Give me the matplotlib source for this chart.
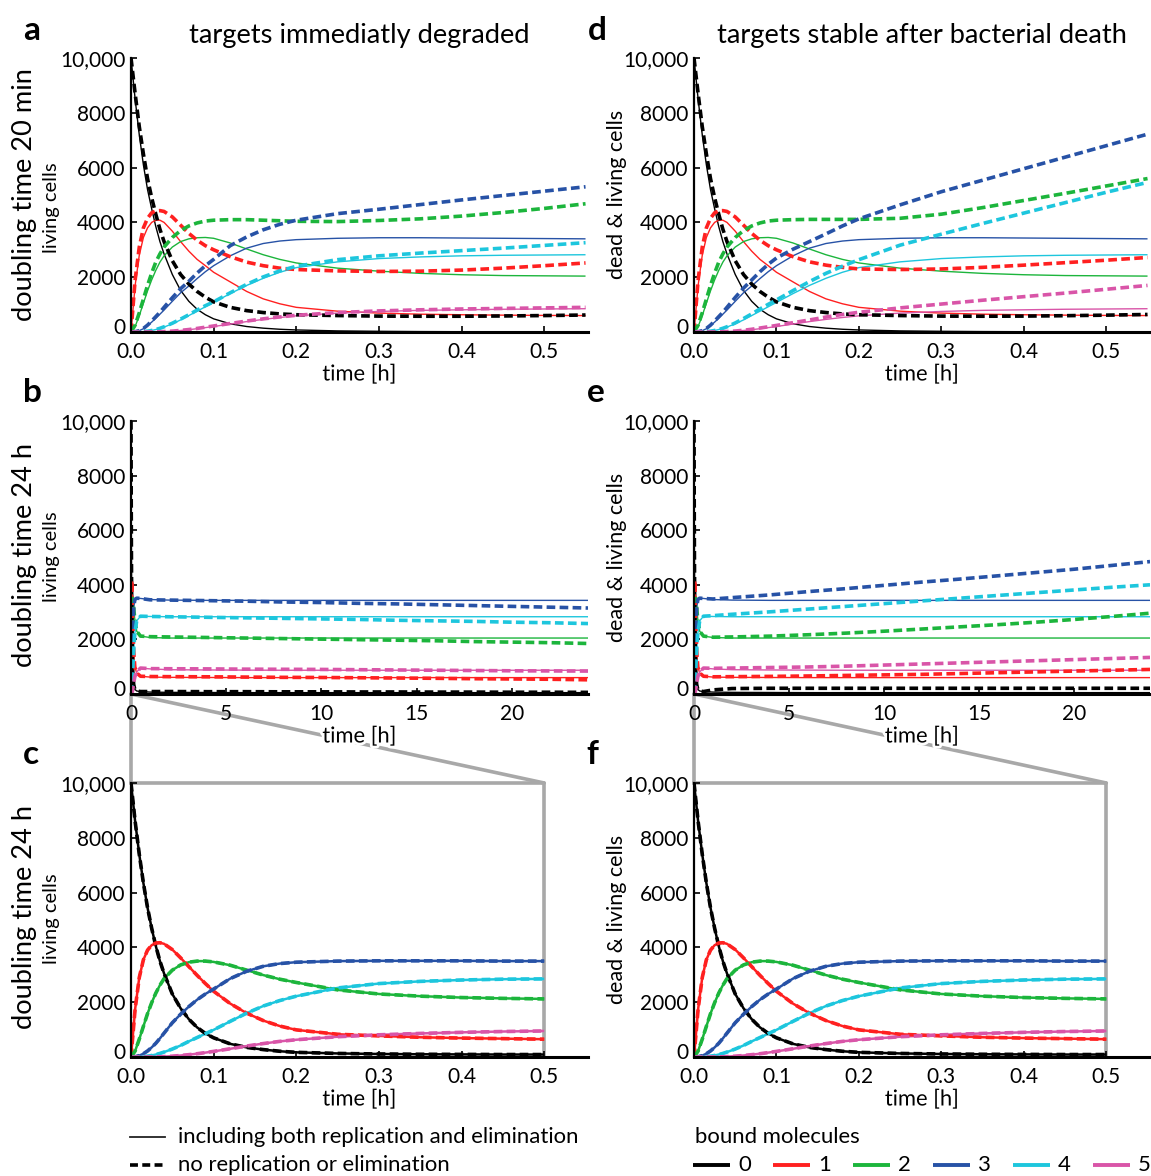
import matplotlib
matplotlib.use("Agg")
import matplotlib.pyplot as plt
from matplotlib.lines import Line2D
from matplotlib.patches import ConnectionPatch
import matplotlib.patheffects as pe
import matplotlib.transforms as mtransforms

plt.rcParams['font.family'] = ['Lato', 'DejaVu Sans']

# colours for 0..5 bound molecules
colors = ['#000000', '#ff2020', '#1cb53c', '#2752a6', '#1dc6dd', '#d955a8']
bound_labels = ['0', '1', '2', '3', '4', '5']

# short time axis (panels a, d, c, f)
t_short = [0, 0.005, 0.01, 0.015, 0.02, 0.025, 0.03, 0.035, 0.04, 0.05, 0.06, 0.07, 0.08,
           0.09, 0.1, 0.12, 0.14, 0.16, 0.18, 0.2, 0.25, 0.3, 0.35, 0.4, 0.45, 0.5, 0.55]

# doubling 20 min, with replication/elimination (solid in a and d)
fast_solid = [
    [10000, 8500, 7200, 6100, 5200, 4500, 3850, 3300, 2850, 2100, 1520, 1120, 830, 630, 480, 300, 200, 140, 100, 75, 40, 25, 15, 10, 8, 6, 5],
    [0, 1700, 2800, 3450, 3800, 4000, 4080, 4080, 4000, 3680, 3300, 2950, 2650, 2420, 2180, 1830, 1480, 1210, 1030, 900, 760, 690, 650, 630, 615, 605, 600],
    [0, 200, 600, 1050, 1500, 1900, 2250, 2550, 2780, 3100, 3300, 3400, 3440, 3450, 3420, 3250, 3030, 2820, 2650, 2520, 2330, 2220, 2140, 2090, 2060, 2050, 2040],
    [0, 10, 50, 120, 230, 360, 500, 650, 800, 1120, 1430, 1680, 1950, 2200, 2420, 2780, 3060, 3230, 3320, 3370, 3420, 3440, 3440, 3430, 3420, 3410, 3400],
    [0, 0, 5, 15, 30, 55, 90, 130, 180, 300, 440, 600, 760, 920, 1080, 1400, 1700, 1960, 2180, 2350, 2560, 2680, 2740, 2780, 2800, 2810, 2820],
    [0, 0, 0, 0, 1, 3, 5, 8, 15, 30, 55, 85, 120, 160, 200, 290, 380, 460, 530, 590, 690, 750, 790, 810, 830, 840, 850],
]

# no replication or elimination, targets degraded (dashed in a)
a_dash = [
    [10000, 8700, 7500, 6500, 5600, 4900, 4300, 3750, 3300, 2600, 2100, 1750, 1480, 1270, 1100, 900, 780, 710, 660, 630, 600, 580, 575, 575, 585, 600, 620],
    [0, 1900, 3100, 3800, 4150, 4350, 4420, 4430, 4400, 4200, 3900, 3600, 3350, 3150, 3000, 2750, 2550, 2420, 2330, 2280, 2230, 2210, 2220, 2260, 2330, 2420, 2520],
    [0, 250, 700, 1200, 1700, 2150, 2550, 2850, 3100, 3450, 3700, 3870, 3980, 4050, 4080, 4100, 4100, 4080, 4060, 4040, 4030, 4070, 4130, 4230, 4360, 4510, 4680],
    [0, 10, 50, 130, 250, 400, 560, 720, 900, 1250, 1580, 1850, 2150, 2420, 2650, 3150, 3470, 3730, 3930, 4080, 4320, 4480, 4650, 4820, 4980, 5140, 5300],
    [0, 0, 5, 15, 30, 55, 90, 135, 190, 320, 470, 630, 800, 960, 1100, 1430, 1740, 2010, 2230, 2400, 2640, 2780, 2880, 2970, 3060, 3160, 3260],
    [0, 0, 0, 0, 1, 3, 5, 9, 16, 32, 58, 90, 130, 175, 220, 310, 400, 480, 550, 610, 710, 770, 810, 840, 860, 880, 900],
]

# no replication or elimination, targets stable (dashed in d)
d_dash = [
    [10000, 8700, 7500, 6500, 5600, 4900, 4300, 3750, 3300, 2600, 2100, 1750, 1480, 1270, 1100, 900, 780, 710, 660, 630, 600, 580, 575, 580, 595, 615, 640],
    [0, 1900, 3100, 3800, 4150, 4350, 4420, 4430, 4400, 4200, 3900, 3600, 3350, 3150, 3000, 2750, 2560, 2440, 2360, 2300, 2280, 2300, 2360, 2440, 2530, 2620, 2720],
    [0, 250, 700, 1200, 1700, 2150, 2550, 2850, 3100, 3450, 3700, 3870, 3980, 4050, 4080, 4100, 4110, 4110, 4110, 4110, 4150, 4300, 4540, 4800, 5060, 5330, 5600],
    [0, 10, 50, 130, 250, 400, 560, 720, 900, 1260, 1600, 1900, 2200, 2470, 2700, 3020, 3300, 3580, 3870, 4130, 4640, 5120, 5540, 5960, 6380, 6800, 7220],
    [0, 0, 5, 15, 30, 55, 90, 135, 190, 330, 490, 660, 840, 1010, 1170, 1510, 1840, 2140, 2400, 2640, 3170, 3570, 3960, 4340, 4720, 5100, 5460],
    [0, 0, 0, 0, 1, 3, 5, 9, 17, 35, 63, 100, 145, 190, 240, 340, 440, 545, 640, 720, 880, 1020, 1160, 1290, 1420, 1560, 1700],
]

# doubling 24 h, first half hour (c and f; solid and dashed nearly equal)
slow = [
    [10000, 8600, 7400, 6350, 5450, 4700, 4050, 3500, 3050, 2300, 1780, 1380, 1080, 860, 700, 480, 350, 270, 210, 170, 130, 110, 100, 95, 90, 90],
    [0, 1750, 2900, 3550, 3900, 4080, 4160, 4170, 4130, 3920, 3620, 3300, 2980, 2680, 2400, 1950, 1600, 1330, 1130, 990, 830, 770, 720, 690, 670, 650],
    [0, 220, 650, 1120, 1580, 1980, 2330, 2620, 2860, 3170, 3360, 3460, 3500, 3500, 3470, 3350, 3170, 2990, 2840, 2720, 2450, 2300, 2220, 2170, 2140, 2120],
    [0, 10, 50, 120, 220, 350, 500, 680, 870, 1250, 1560, 1840, 2090, 2300, 2480, 2860, 3130, 3310, 3410, 3460, 3500, 3510, 3510, 3510, 3500, 3500],
    [0, 0, 5, 15, 30, 55, 90, 130, 180, 290, 420, 570, 710, 850, 990, 1300, 1600, 1860, 2060, 2220, 2520, 2680, 2760, 2810, 2840, 2850],
    [0, 0, 0, 0, 1, 3, 5, 8, 15, 30, 55, 85, 120, 160, 205, 300, 400, 490, 570, 630, 740, 810, 860, 900, 930, 950],
]

# long time axis (panels b, e)
t_long = [0, 0.01, 0.02, 0.035, 0.05, 0.09, 0.14, 0.2, 0.3, 0.5, 1, 2, 4, 6, 8, 10, 12, 14, 16, 18, 20, 22, 24]

long_solid = [
    [10000, 7400, 5450, 3500, 2300, 860, 350, 170, 110, 90, 70, 60, 55, 50, 50, 50, 50, 50, 50, 50, 50, 50, 50],
    [0, 2900, 3900, 4170, 3920, 2680, 1600, 990, 770, 650, 620, 610, 605, 600, 600, 600, 600, 600, 600, 600, 600, 600, 600],
    [0, 650, 1580, 2620, 3170, 3500, 3170, 2720, 2300, 2120, 2070, 2050, 2050, 2050, 2050, 2050, 2050, 2050, 2050, 2050, 2050, 2050, 2050],
    [0, 50, 220, 680, 1250, 2300, 3130, 3460, 3510, 3500, 3460, 3440, 3430, 3430, 3430, 3430, 3430, 3430, 3430, 3430, 3430, 3430, 3430],
    [0, 5, 30, 130, 290, 850, 1600, 2220, 2680, 2850, 2840, 2830, 2830, 2830, 2830, 2830, 2830, 2830, 2830, 2830, 2830, 2830, 2830],
    [0, 0, 1, 8, 30, 160, 400, 630, 810, 950, 920, 890, 880, 875, 870, 870, 870, 870, 870, 870, 870, 870, 870],
]

b_dash = [
    [10000, 7400, 5450, 3500, 2300, 860, 350, 170, 110, 90, 90, 90, 85, 85, 80, 80, 75, 75, 70, 70, 65, 65, 60],
    [0, 2900, 3900, 4170, 3920, 2680, 1600, 990, 770, 650, 640, 635, 630, 620, 610, 605, 595, 585, 575, 560, 550, 540, 520],
    [0, 650, 1580, 2620, 3170, 3500, 3170, 2720, 2300, 2120, 2100, 2090, 2070, 2050, 2030, 2010, 1990, 1970, 1950, 1920, 1900, 1880, 1850],
    [0, 50, 220, 680, 1250, 2300, 3130, 3460, 3510, 3500, 3450, 3440, 3420, 3400, 3370, 3350, 3320, 3300, 3270, 3240, 3210, 3180, 3150],
    [0, 5, 30, 130, 290, 850, 1600, 2220, 2680, 2850, 2840, 2830, 2810, 2790, 2770, 2750, 2730, 2700, 2680, 2660, 2630, 2610, 2580],
    [0, 0, 1, 8, 30, 160, 400, 630, 810, 950, 930, 925, 920, 910, 905, 900, 890, 880, 870, 860, 850, 845, 840],
]

e_dash = [
    [10000, 7400, 5450, 3500, 2300, 860, 350, 170, 110, 90, 150, 200, 210, 210, 210, 210, 210, 210, 210, 210, 210, 210, 210],
    [0, 2900, 3900, 4170, 3920, 2680, 1600, 990, 770, 650, 630, 635, 645, 660, 680, 700, 720, 750, 780, 810, 840, 870, 900],
    [0, 650, 1580, 2620, 3170, 3500, 3170, 2720, 2300, 2120, 2080, 2090, 2120, 2170, 2230, 2300, 2380, 2460, 2540, 2630, 2730, 2840, 2960],
    [0, 50, 220, 680, 1250, 2300, 3130, 3460, 3510, 3500, 3480, 3530, 3630, 3750, 3860, 3980, 4100, 4210, 4330, 4450, 4570, 4710, 4850],
    [0, 5, 30, 130, 290, 850, 1600, 2220, 2680, 2850, 2870, 2920, 3010, 3110, 3210, 3310, 3410, 3510, 3610, 3710, 3810, 3910, 4000],
    [0, 0, 1, 8, 30, 160, 400, 630, 810, 950, 940, 950, 970, 990, 1020, 1060, 1100, 1140, 1180, 1220, 1260, 1300, 1340],
]

y_ticks = [0, 2000, 4000, 6000, 8000, 10000]
y_ticklabels = ['0', '2000', '4000', '6000', '8000', '10,000']
short_ticks = [0, 0.1, 0.2, 0.3, 0.4, 0.5]
short_ticklabels = ['0.0', '0.1', '0.2', '0.3', '0.4', '0.5']
long_ticks = [0, 5, 10, 15, 20]

W, H = 1151, 1176
fig = plt.figure(figsize=(W / 100, H / 100), dpi=100)


def add_ax(l, t, r, b):
    return fig.add_axes([l / W, 1 - b / H, (r - l) / W, (b - t) / H])


def style(ax, long=False):
    ax.set_ylim(0, 10000)
    ax.set_yticks(y_ticks)
    ax.set_yticklabels(y_ticklabels)
    if long:
        ax.set_xlim(0, 24)
        ax.set_xticks(long_ticks)
    else:
        ax.set_xlim(0, 0.553)
        ax.set_xticks(short_ticks)
        ax.set_xticklabels(short_ticklabels)
    for s in ['top', 'right']:
        ax.spines[s].set_visible(False)
    ax.spines['left'].set_linewidth(1.6)
    ax.spines['bottom'].set_linewidth(2.2)
    ax.tick_params(direction='in', length=4, width=1.2, labelsize=15, pad=4)
    ax.tick_params(axis='x', pad=7)
    # lift the "0" label a little so it clears the x tick label below it
    zero = ax.get_yticklabels()[0]
    zero.set_transform(zero.get_transform() +
                       mtransforms.ScaledTranslation(0, 4 / 72, fig.dpi_scale_trans))
    xl = ax.set_xlabel('time [h]', fontsize=15.8, labelpad=2)
    xl.set_path_effects([pe.withStroke(linewidth=4, foreground='white')])


def draw(ax, t, solid, dash, solid_lw=1.0, dash_lw=2.6):
    for k in range(6):
        ax.plot(t[:len(solid[k])], solid[k], color=colors[k], lw=solid_lw,
                solid_capstyle='butt')
    for k in range(6):
        ax.plot(t[:len(dash[k])], dash[k], color=colors[k], lw=dash_lw,
                dashes=(2.4, 1.2), dash_capstyle='butt')


ax_a = add_ax(131, 58, 588, 332)
ax_d = add_ax(694, 58, 1150, 332)
ax_b = add_ax(131, 421, 588, 694)
ax_e = add_ax(694, 421, 1150, 694)
ax_c = add_ax(131, 783, 588, 1057)
ax_f = add_ax(694, 783, 1150, 1057)

draw(ax_a, t_short, fast_solid, a_dash)
draw(ax_d, t_short, fast_solid, d_dash)
draw(ax_b, t_long, long_solid, b_dash)
draw(ax_e, t_long, long_solid, e_dash)
draw(ax_c, t_short, slow, slow, solid_lw=1.8, dash_lw=2.6)
draw(ax_f, t_short, slow, slow, solid_lw=1.8, dash_lw=2.6)

for ax in [ax_a, ax_d, ax_c, ax_f]:
    style(ax)
for ax in [ax_b, ax_e]:
    style(ax, long=True)

# zoom box and connectors
grey = '#a8a8a8'
for ax_top, ax_bot in [(ax_b, ax_c), (ax_e, ax_f)]:
    ax_bot.plot([0, 0.5, 0.5], [10000, 10000, 0], color=grey, lw=2.6,
                clip_on=False, zorder=1)
    for xb in [0, 0.5]:
        con = ConnectionPatch(xyA=(0, 0), coordsA=ax_top.transData,
                              xyB=(xb, 10000), coordsB=ax_bot.transData,
                              color=grey, lw=2.6)
        con.set_clip_on(False)
        ax_bot.add_artist(con)
    ax_top.set_zorder(3)
    ax_top.patch.set_alpha(0)


def ftext(x, y, s, **kw):
    fig.text(x / W, 1 - y / H, s, **kw)


# titles and panel letters
ftext(359, 35, 'targets immediatly degraded', fontsize=19.6, ha='center', va='center')
ftext(922, 35, 'targets stable after bacterial death', fontsize=19.6, ha='center', va='center')
for letter, x, y in [('a', 32, 30), ('d', 597, 30), ('b', 32, 393), ('e', 596, 393),
                     ('c', 31, 755), ('f', 592, 755)]:
    ftext(x, y, letter, fontsize=24, fontweight='bold', ha='center', va='center')

# y labels
for big, yc in [('doubling time 20 min', 195), ('doubling time 24 h', 555), ('doubling time 24 h', 917)]:
    ftext(25, yc, big, fontsize=19.6, rotation=90, ha='center', va='center')
for yc in [208, 557, 919]:
    ftext(52, yc, 'living cells', fontsize=14.5, rotation=90, ha='center', va='center')
for yc in [194, 557, 919]:
    ftext(617, yc, 'dead & living cells', fontsize=15.5, rotation=90, ha='center', va='center')

# legend
fig.add_artist(Line2D([130 / W, 165 / W], [1 - 1137 / H] * 2, color='#222222', lw=1.3))
fig.add_artist(Line2D([130 / W, 165 / W], [1 - 1165 / H] * 2, color='black', lw=2.6,
                      dashes=(2.2, 1.2)))
ftext(178, 1137, 'including both replication and elimination', fontsize=15.9, va='center')
ftext(178, 1165, 'no replication or elimination', fontsize=15.9, va='center')
ftext(695, 1137, 'bound molecules', fontsize=15.9, va='center')
for k in range(6):
    x0 = 693 + 80 * k
    fig.add_artist(Line2D([x0 / W, (x0 + 37) / W], [1 - 1165 / H] * 2,
                          color=colors[k], lw=2.8, solid_capstyle='butt'))
    ftext(x0 + 45, 1165, bound_labels[k], fontsize=15.9, va='center')

fig.savefig('out.png', dpi=100)
